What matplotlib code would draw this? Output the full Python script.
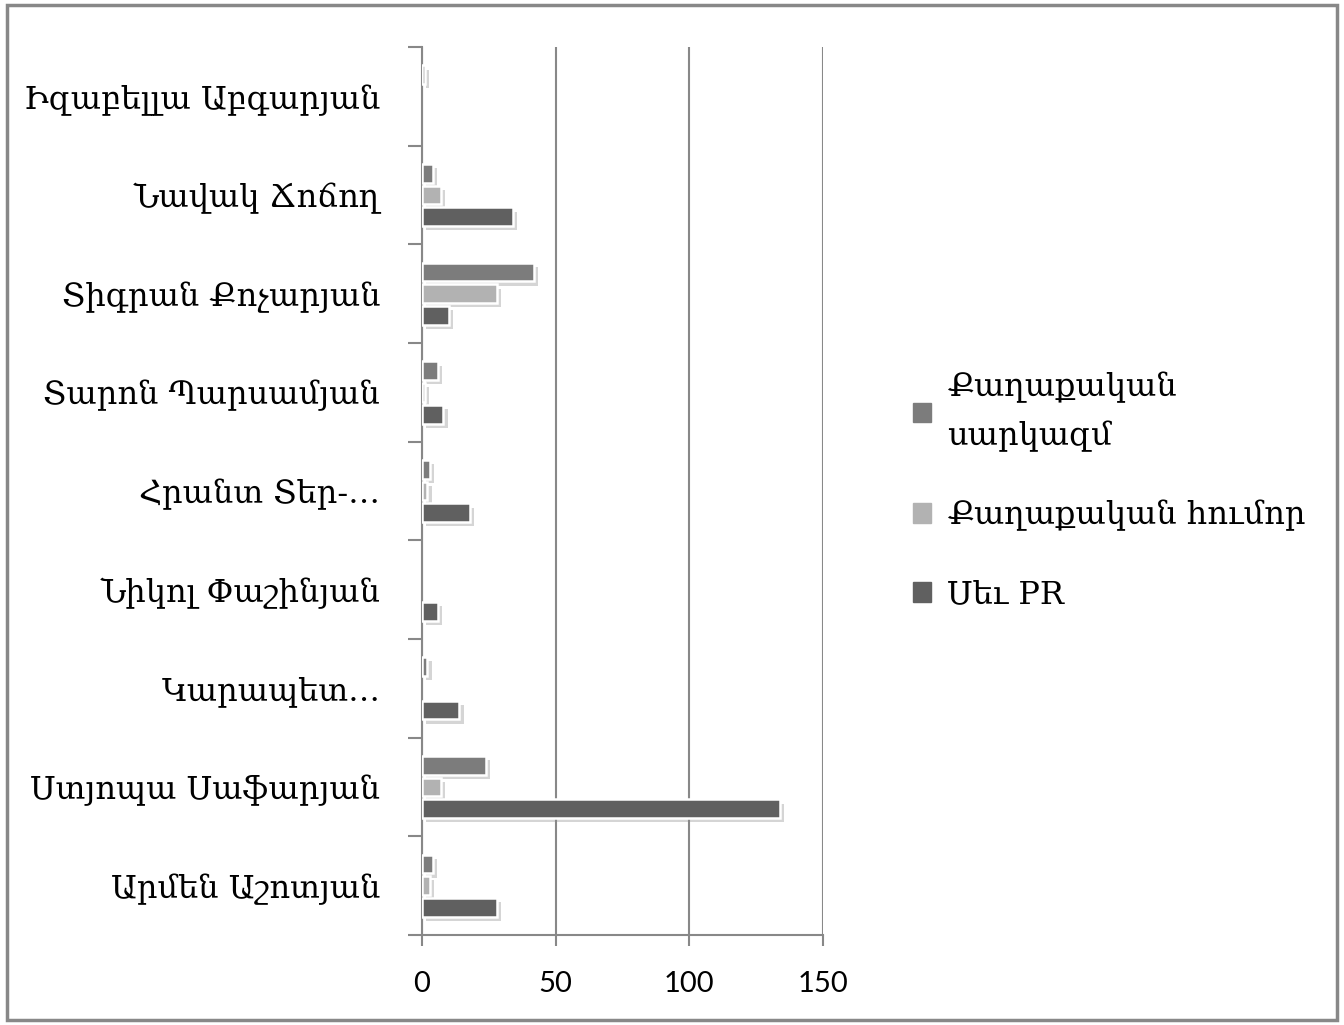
import numpy as np
import matplotlib
matplotlib.use('Agg')
import matplotlib.pyplot as plt
import matplotlib.patheffects as pe
from matplotlib.patches import Rectangle

# Categories, bottom to top as drawn
names = ['Արմեն Աշոտյան', 'Ստյոպա Սաֆարյան', 'Կարապետ…', 'Նիկոլ Փաշինյան',
         'Հրանտ Տեր-…', 'Տարոն Պարսամյան', 'Տիգրան Քոչարյան', 'Նավակ Ճոճող',
         'Իզաբելլա Աբգարյան']

# Series values
sarkazm = [4, 24, 2, 0, 3, 6, 42, 4, 1]
humor = [3, 7, 0, 0, 2, 1, 28, 7, 0]
sev_pr = [28, 134, 14, 6, 18, 8, 10, 34, 0]

series_labels = ['Քաղաքական\nսարկազմ', 'Քաղաքական հումոր', 'Սեւ PR']
colors = ['#7c7c7c', '#b2b2b2', '#606060']
xticks = [0, 50, 100, 150]

plt.rcParams['font.family'] = ['DejaVu Serif', 'DejaVu Sans']

fig = plt.figure(figsize=(13.44, 10.25), dpi=100)
ax = fig.add_axes([0.314, 0.0878, 0.298, 0.8662])

y = np.arange(len(names))
h = 0.19
step = 0.22
shadow = [pe.SimplePatchShadow(offset=(3, -3), shadow_rgbFace='#888888', alpha=0.35), pe.Normal()]
handles = []
for vals, off, col, lab in zip([sarkazm, humor, sev_pr], [step, 0, -step], colors, series_labels):
    bars = ax.barh(y + off, vals, height=h, color=col, edgecolor='white', linewidth=1.8,
                   label=lab, zorder=3)
    for b in bars:
        if b.get_width() > 0:
            b.set_path_effects(shadow)
        else:
            b.set_visible(False)
    handles.append(plt.Rectangle((0, 0), 1, 1, color=col))

ax.set_xlim(0, 150)
ax.set_ylim(-0.5, len(names) - 0.5)
ax.set_xticks(xticks)
ax.set_xticklabels([str(t) for t in xticks], family=['Lato', 'DejaVu Sans'], fontsize=21)
ax.set_yticks(y)
ax.set_yticklabels(names, fontsize=23)
ax.set_yticks(np.arange(-0.5, len(names), 1), minor=True)
ax.tick_params(axis='y', which='major', length=0, pad=30)
ax.tick_params(axis='y', which='minor', length=10, width=1.5, color='#888888')
ax.tick_params(axis='x', length=8, width=1.5, color='#888888', pad=18)
ax.grid(axis='x', color='#888888', linewidth=1.5, zorder=0)
for s in ['top', 'right']:
    ax.spines[s].set_visible(False)
for s in ['left', 'bottom']:
    ax.spines[s].set_color('#888888')
    ax.spines[s].set_linewidth(1.5)

leg = fig.legend(handles, series_labels, loc='upper left', bbox_to_anchor=(0.658, 0.665),
                 frameon=False, fontsize=23, handlelength=0.55, handleheight=0.55,
                 handletextpad=0.5, labelspacing=1.5)
for t in leg.get_texts():
    t.set_linespacing(1.7)

# outer frame
fig.patches.append(Rectangle((0.005, 0.005), 0.99, 0.99, transform=fig.transFigure,
                             fill=False, edgecolor='#888888', linewidth=2.5))

fig.savefig('out.png', dpi=100)
